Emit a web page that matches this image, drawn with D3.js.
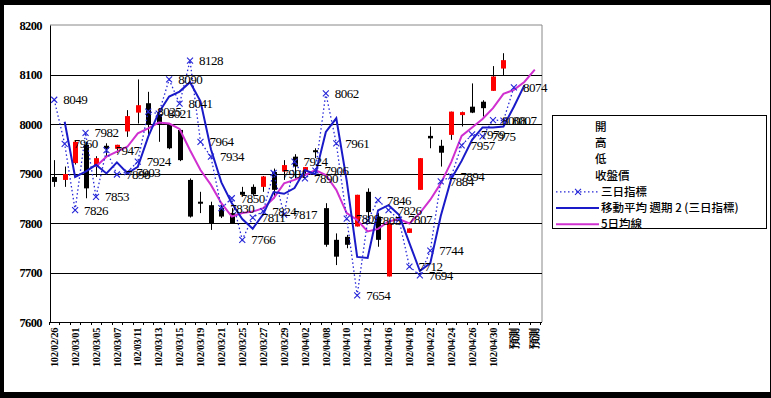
<!DOCTYPE html>
<html>
<head>
<meta charset="utf-8">
<script src="https://cdn.jsdelivr.net/npm/d3@7"></script>
<style>
  body { margin: 0; background: #000; }
  svg { display: block; }
</style>
</head>
<body>
<script>
// x categories (labels only drawn on every other one)
const categories = [
  "102/02/26","102/02/27","102/03/01","102/03/04","102/03/05","102/03/06","102/03/07","102/03/08",
  "102/03/11","102/03/12","102/03/13","102/03/14","102/03/15","102/03/18","102/03/19","102/03/20",
  "102/03/21","102/03/22","102/03/25","102/03/26","102/03/27","102/03/28","102/03/29","102/04/01",
  "102/04/02","102/04/03","102/04/08","102/04/09","102/04/10","102/04/11","102/04/12","102/04/15",
  "102/04/16","102/04/17","102/04/18","102/04/19","102/04/22","102/04/23","102/04/24","102/04/25",
  "102/04/26","102/04/29","102/04/30","102/05/02","預測","預測","預測"
];
const yTicks = [7600, 7700, 7800, 7900, 8000, 8100, 8200];

// candles
const openVals  = [7893,7887,7921,7958,7914,7956,7950,7985,8023,8042,8020,7998,7988,7887,7843,7836,7830,7820,7863,7873,7873,7903,7904,7934,7904,7947,7830,7766,7772,7793,7863,7813,7692,null,7780,7867,7976,7956,7978,8018,8035,8045,8067,8112];
const highVals  = [7927,7914,7966,7964,7935,7961,7958,8028,8090,8065,8032,8000,7990,7890,7863,7843,7840,7830,7873,7878,7895,7910,7927,7939,7913,7951,7840,7779,7776,7857,7870,7820,7800,null,7789,7931,7995,7968,8025,8025,8082,8048,8117,8143];
const lowVals   = [7873,7873,7918,7850,7893,7934,7941,7974,8001,7978,7964,7949,7925,7811,7820,7786,7810,7800,7853,7855,7863,7850,7887,7890,7895,7931,7752,7715,7749,7793,7810,7752,7692,null,7780,7867,7951,7914,7968,7995,8022,8015,8067,8099];
const closeVals = [7883,7899,7964,7870,7931,7950,7958,8016,8038,7998,8000,7951,7927,7813,7841,7799,7813,7800,7857,7858,7894,7867,7917,7914,7913,7944,7756,7732,7756,7857,7822,7766,7799,null,7789,7931,7971,7942,8025,8024,8023,8032,8096,8129];

// 三日指標
const sanri = [8049,7960,7826,7982,7853,7947,7898,7903,7924,8025,8021,8090,8041,8128,7964,7934,7830,7850,7766,7811,
  7824,7901,7817,7924,7890,7906,8062,7961,7809,7654,7805,7846,7826,7807,7712,7694,7744,7884,7894,7957,
  7979,7975,8008,8007,8074];

// 移動平均 週期 2 (三日指標)
const ma2 = [null,8004.5,7893,7904,7917.5,7900,7922.5,7900.5,7913.5,7974.5,8023,8055.5,8065.5,8084.5,8046,7949,7882,7840,7808,7788.5,
  7817.5,7862.5,7859,7870.5,7907,7898,7984,8011.5,7885,7731.5,7729.5,7825.5,7836,7816.5,7759.5,7703,7719,7814,7889,7925.5,
  7968,7993,7993,7995,8035,8078];

// 5日均線
const ma5 = [null,null,null,null,7914,7934,7944,7954,7981,7991,8003,8001,7990,7947,7907,7877,7840,7813,7820,7823,
  7830,7850,7880,7887,7897,7907,7897,7867,7820,7806,7783,7788,7803,7808,7799,7820,7847,7880,7923,7976,
  7993,8010,8032,8061,8069,8085,8110];

const W = 771, H = 398;
const plot = { left: 50, right: 542, top: 25, bottom: 322 };

const svg = d3.select("body").append("svg").attr("width", W).attr("height", H);

// black frame + white card
svg.append("rect").attr("width", W).attr("height", H).attr("fill", "#000");
svg.append("rect").attr("x", 4).attr("y", 5).attr("width", W - 5).attr("height", H - 11).attr("fill", "#fff");

const x = d3.scaleBand().domain(d3.range(categories.length)).range([49, 540]).padding(0);
const y = d3.scaleLinear().domain([7600, 8200]).range([plot.bottom, plot.top]);
const cx = i => x(i) + x.bandwidth() / 2;

// plot border (grey top/right)
svg.append("line").attr("x1", plot.left).attr("x2", plot.right).attr("y1", plot.top).attr("y2", plot.top).attr("stroke", "#888");
svg.append("line").attr("x1", plot.right).attr("x2", plot.right).attr("y1", plot.top).attr("y2", plot.bottom).attr("stroke", "#888");

// gridlines
svg.selectAll(".grid").data(yTicks.filter(t => t > 7600 && t < 8200)).enter()
  .append("line")
  .attr("x1", plot.left).attr("x2", plot.right)
  .attr("y1", d => Math.round(y(d)) + 0.5).attr("y2", d => Math.round(y(d)) + 0.5)
  .attr("stroke", "#000");

// y axis
const yAxis = svg.append("g").attr("transform", `translate(${plot.left},0)`)
  .call(d3.axisLeft(y).tickValues(yTicks).tickSize(0).tickPadding(8).tickFormat(d3.format("d")));
yAxis.select(".domain").attr("stroke", "#000");
yAxis.selectAll("text").attr("font-family", "Liberation Serif").attr("font-weight", "bold")
  .attr("font-size", 12.5).attr("letter-spacing", -0.6).attr("fill", "#000");

// x axis
const xAxis = svg.append("g").attr("transform", `translate(0,${plot.bottom})`)
  .call(d3.axisBottom(x).tickSize(0).tickFormat(i => i % 2 === 0 ? categories[i] : ""));
xAxis.select(".domain").remove();
svg.append("line").attr("x1", plot.left).attr("x2", plot.right).attr("y1", plot.bottom + 0.5).attr("y2", plot.bottom + 0.5).attr("stroke", "#000");
svg.selectAll(".xtick").data(d3.range(categories.length + 1)).enter()
  .append("line")
  .attr("x1", i => Math.round(49 + i * x.step()) + 0.5).attr("x2", i => Math.round(49 + i * x.step()) + 0.5)
  .attr("y1", plot.bottom).attr("y2", plot.bottom + 3).attr("stroke", "#000");
xAxis.selectAll("text")
  .attr("transform", "rotate(-90)")
  .attr("text-anchor", "end")
  .attr("x", -6).attr("y", 0).attr("dy", "0.35em")
  .attr("font-family", "Liberation Serif").attr("font-weight", "bold")
  .attr("font-size", 10.5).attr("letter-spacing", -0.4).attr("fill", "#000");

// candles
const candles = d3.range(openVals.length).filter(i => openVals[i] != null);
svg.selectAll(".wick").data(candles).enter().append("line")
  .attr("x1", i => Math.round(cx(i)) + 0.5).attr("x2", i => Math.round(cx(i)) + 0.5)
  .attr("y1", i => y(highVals[i])).attr("y2", i => y(lowVals[i]))
  .attr("stroke", "#000").attr("stroke-width", 1);
svg.selectAll(".body").data(candles).enter().append("rect")
  .attr("x", i => Math.round(cx(i)) - 2)
  .attr("width", 5)
  .attr("y", i => y(Math.max(openVals[i], closeVals[i])))
  .attr("height", i => Math.max(2, Math.abs(y(openVals[i]) - y(closeVals[i]))))
  .attr("fill", i => closeVals[i] >= openVals[i] ? "#ff0000" : "#000");

// 5日均線
const line = d3.line().defined(d => d[1] != null).x(d => cx(d[0])).y(d => y(d[1]));
svg.append("path").datum(ma5.map((v, i) => [i, v]))
  .attr("d", line).attr("fill", "none").attr("stroke", "#d030d0").attr("stroke-width", 2);

// moving average of 三日指標
svg.append("path").datum(ma2.map((v, i) => [i, v]))
  .attr("d", line).attr("fill", "none").attr("stroke", "#1a1ac8").attr("stroke-width", 2);

// 三日指標 dotted with x markers
svg.append("path").datum(sanri.map((v, i) => [i, v]))
  .attr("d", line).attr("fill", "none").attr("stroke", "#2626d8")
  .attr("stroke-width", 1.3).attr("stroke-dasharray", "1.5,2.5");
const mk = svg.selectAll(".mk").data(sanri.map((v, i) => [i, v])).enter().append("g")
  .attr("transform", d => `translate(${cx(d[0])},${y(d[1])})`);
mk.append("path").attr("d", "M-3,-3L3,3M-3,3L3,-3").attr("stroke", "#2626d8").attr("stroke-width", 1.1);

// value labels
svg.selectAll(".lbl").data(sanri.map((v, i) => [i, v])).enter().append("text")
  .attr("x", d => cx(d[0]) + 9).attr("y", d => y(d[1])).attr("dy", "0.35em")
  .attr("font-family", "Liberation Serif").attr("font-size", 13).attr("letter-spacing", -0.5)
  .attr("fill", "#000").text(d => d[1]);

// legend
const lg = svg.append("g");
lg.append("rect").attr("x", 552.5).attr("y", 115.5).attr("width", 214).attr("height", 113)
  .attr("fill", "#fff").attr("stroke", "#000");
const legendItems = [
  { name: "開" }, { name: "高" }, { name: "低" }, { name: "收盤價" },
  { name: "三日指標", color: "#2626d8", dash: "1.5,2.5", marker: true, w: 1.3 },
  { name: "移動平均 週期 2 (三日指標)", color: "#1a1ac8", w: 2 },
  { name: "5日均線", color: "#d030d0", w: 2 }
];
legendItems.forEach((d, k) => {
  const yy = 127 + k * 16.2;
  if (d.color) {
    lg.append("line").attr("x1", 556).attr("x2", 599).attr("y1", yy).attr("y2", yy)
      .attr("stroke", d.color).attr("stroke-width", d.w).attr("stroke-dasharray", d.dash || null);
    if (d.marker) lg.append("path").attr("d", `M575,${yy - 3}L581,${yy + 3}M575,${yy + 3}L581,${yy - 3}`)
      .attr("stroke", d.color).attr("stroke-width", 1.1);
  }
  lg.append("text").attr("x", d.color ? 601 : 595).attr("y", yy).attr("dy", "0.35em")
    .attr("font-family", "Noto Sans CJK TC").attr("font-size", 11.5).attr("font-weight", 500)
    .attr("fill", "#000").text(d.name);
});
</script>
</body>
</html>
